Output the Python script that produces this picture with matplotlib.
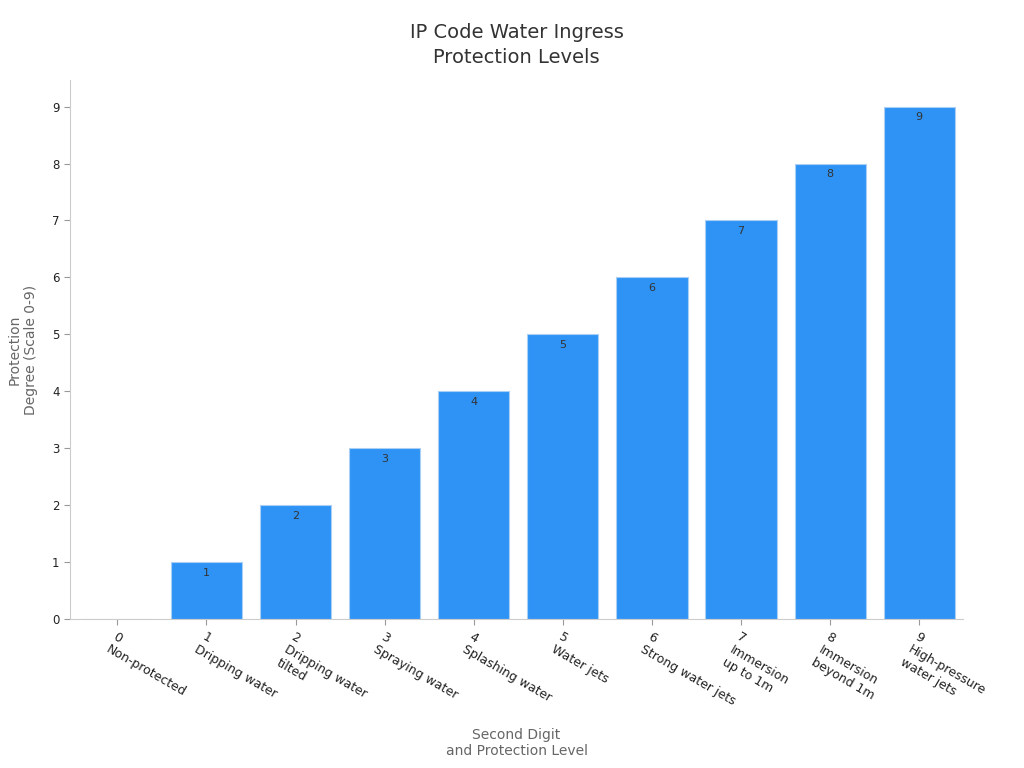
import matplotlib
matplotlib.use('Agg')
import matplotlib.pyplot as plt

# data
digits = [0, 1, 2, 3, 4, 5, 6, 7, 8, 9]
levels = ['Non-protected', 'Dripping water', 'Dripping water\ntilted', 'Spraying water',
          'Splashing water', 'Water jets', 'Strong water jets', 'Immersion\nup to 1m',
          'Immersion\nbeyond 1m', 'High-pressure\nwater jets']
degree = [0, 1, 2, 3, 4, 5, 6, 7, 8, 9]

tick_labels = ['%d\n%s' % (d, l) for d, l in zip(digits, levels)]

fig = plt.figure(figsize=(10.24, 7.68), dpi=100)
ax = fig.add_axes([0.0684, 0.194, 0.872, 0.702])

bars = ax.bar(digits, degree, width=0.8, color='#2E93F5', edgecolor='#A9CFF5', linewidth=0.8)
for x, v in zip(digits, degree):
    if v > 0:
        ax.text(x, v - 0.1, str(v), ha='center', va='top', fontsize=8, color='#333333')

ax.set_xlim(-0.53, 9.49)
ax.set_ylim(0, 9.47)
ax.set_yticks(range(0, 10))
ax.set_xticks(digits)
ax.set_xticklabels(tick_labels, rotation=-30, ha='left', va='top',
                   rotation_mode='anchor', fontsize=9, color='#222222')
ax.tick_params(axis='y', labelsize=8.5, colors='#222222', length=4, color='#999999')
ax.tick_params(axis='x', length=4, color='#999999', pad=4)

for s in ['top', 'right']:
    ax.spines[s].set_visible(False)
for s in ['left', 'bottom']:
    ax.spines[s].set_color('#cccccc')

ax.set_title('IP Code Water Ingress\nProtection Levels', fontsize=14, color='#333333',
             pad=12, linespacing=1.4)
ax.set_xlabel('Second Digit\nand Protection Level', fontsize=10, color='#666666', labelpad=10)
ax.set_ylabel('Protection\nDegree (Scale 0-9)', fontsize=10, color='#666666', labelpad=10)

plt.savefig('out.png', dpi=100)
